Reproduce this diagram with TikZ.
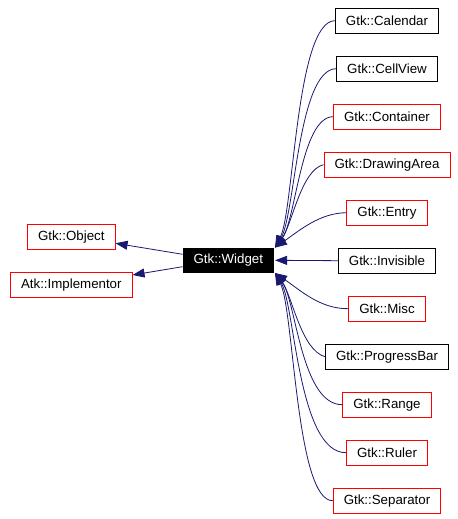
\documentclass[tikz,border=0pt]{standalone}
\usepackage{fontspec}
\setmainfont{Liberation Sans}
\usetikzlibrary{arrows.meta}
\definecolor{edgeblue}{RGB}{25,25,112}

\begin{document}
\begin{tikzpicture}[x=1bp, y=1bp,
    cls/.style={draw, rectangle, line width=0.8bp, inner xsep=10.6bp, inner ysep=0pt,
      minimum height=24.6bp, font=\fontsize{13.3bp}{16bp}\selectfont},
    redcls/.style={cls, draw=red},
    blackcls/.style={cls, draw=black},
    current/.style={cls, fill=black, text=white},
    inherit/.style={draw=edgeblue, line width=0.8bp,
      -{Triangle[length=12bp, width=9bp]}}]
  % Keep the page at the reference size
  \useasboundingbox (0,0) rectangle (458,519);

  % The widget and its bases
  \node[current] (widget) at (228.3,258.7) {Gtk::Widget};
  \node[redcls] (object) at (71.3,282.3) {Gtk::Object};
  \node[redcls] (implementor) at (71.3,234.3) {Atk::Implementor};

  % Derived classes
  \node[blackcls] (calendar) at (387,498.3) {Gtk::Calendar};
  \node[blackcls] (cellview) at (387,450.3) {Gtk::CellView};
  \node[redcls] (container) at (387,402.3) {Gtk::Container};
  \node[redcls] (drawingarea) at (387,354.3) {Gtk::DrawingArea};
  \node[redcls] (entry) at (387,306.3) {Gtk::Entry};
  \node[blackcls] (invisible) at (387,258.3) {Gtk::Invisible};
  \node[redcls] (misc) at (387,210.3) {Gtk::Misc};
  \node[blackcls] (progressbar) at (387,162.3) {Gtk::ProgressBar};
  \node[redcls] (range) at (387,114.3) {Gtk::Range};
  \node[redcls] (ruler) at (387,66.3) {Gtk::Ruler};
  \node[redcls] (separator) at (387,18.3) {Gtk::Separator};

  % Inheritance arrows to the bases
  \draw[inherit] ([yshift=6bp]widget.west) -- ([yshift=-6.6bp]object.east);
  \draw[inherit] ([yshift=-6.4bp]widget.west) -- ([yshift=9.7bp]implementor.east);

  % Inheritance arrows from the derived classes
  \draw[inherit] (calendar.west) .. controls (296,498) and (294,309) .. ([xshift=1bp]widget.north east);
  \draw[inherit] (cellview.west) .. controls (298,450) and (295,304) .. ([xshift=1bp]widget.north east);
  \draw[inherit] (container.west) .. controls (301,402) and (296,299) .. ([xshift=1bp]widget.north east);
  \draw[inherit] (drawingarea.west) .. controls (301,349) and (292,294) .. ([xshift=1bp]widget.north east);
  \draw[inherit] (entry.west) .. controls (320,306) and (300,289) .. ([xshift=1bp]widget.north east);
  \draw[inherit] (invisible.west) -- ([xshift=1bp]widget.east);
  \draw[inherit] (misc.west) .. controls (320,210) and (300,229) .. ([xshift=1bp]widget.south east);
  \draw[inherit] (progressbar.west) .. controls (301,169) and (292,224) .. ([xshift=1bp]widget.south east);
  \draw[inherit] (range.west) .. controls (301,114) and (296,219) .. ([xshift=1bp]widget.south east);
  \draw[inherit] (ruler.west) .. controls (298,66) and (295,214) .. ([xshift=1bp]widget.south east);
  \draw[inherit] (separator.west) .. controls (296,18) and (294,209) .. ([xshift=1bp]widget.south east);
\end{tikzpicture}
\end{document}
